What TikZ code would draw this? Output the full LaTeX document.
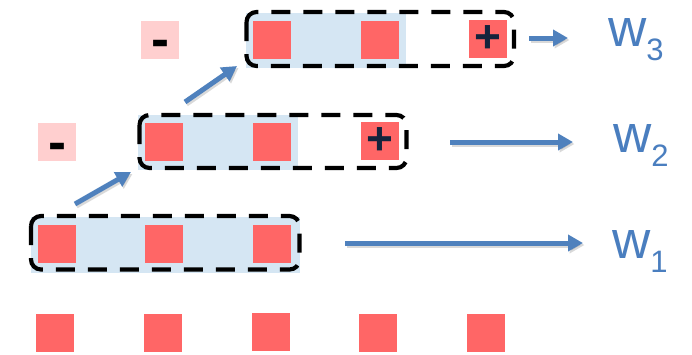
\documentclass[tikz,border=0pt]{standalone}
\usepackage{fontspec}
\setmainfont{Liberation Sans}
\usetikzlibrary{arrows.meta}
\definecolor{sqred}{HTML}{FF6666}
\definecolor{sqpink}{HTML}{FFCFCF}
\definecolor{winfill}{HTML}{D5E6F3}
\definecolor{arrblue}{HTML}{4F81BD}
\definecolor{lblblue}{HTML}{4A7EBF}
\definecolor{plusnavy}{HTML}{14233C}
\tikzset{
  sq/.style={minimum size=38pt, inner sep=0pt, fill=sqred},
  negsq/.style={minimum size=38pt, inner sep=0pt, fill=sqpink},
  winbg/.style={fill=winfill},
  winbox/.style={draw=black, line width=4.2pt, rounded corners=10pt,
    dash pattern=on 19pt off 13pt},
  flow/.style={draw=arrblue, line width=5pt,
    -{Triangle[length=15pt,width=16pt]}},
  flowshadow/.style={draw=black, opacity=0.15, line width=5pt,
    -{Triangle[length=15pt,width=16pt]}},
  signtxt/.style={font=\fontsize{46}{46}\selectfont\bfseries, inner sep=0pt},
  minustxt/.style={font=\fontsize{54}{54}\selectfont\bfseries, inner sep=0pt},
  wlabel/.style={anchor=base west, inner sep=0pt, text=lblblue},
}
\newcommand{\wsub}[1]{{\fontsize{53}{53}\selectfont w}\raisebox{-14pt}{\fontsize{31}{31}\selectfont #1}}
\begin{document}
\begin{tikzpicture}[x=1pt, y=-1pt]
\useasboundingbox (0,0) rectangle (692,354);

% window backgrounds
\fill[winbg] (31,217) rectangle (300,273);
\fill[winbg] (138,115) rectangle (298,170);
\fill[winbg] (246,13) rectangle (406,68);

% bottom row of samples
\node[sq] (b1) at (55,333) {};
\node[sq] (b2) at (163,333) {};
\node[sq] (b3) at (271,332) {};
\node[sq] (b4) at (378,333) {};
\node[sq] (b5) at (486,333) {};

% first window
\node[sq] (r11) at (57,244) {};
\node[sq] (r12) at (164,244) {};
\node[sq] (r13) at (272,244) {};

% second window
\node[negsq] (n2) at (57,142) {};
\node[minustxt] (n2s) at (57,152) {-};
\node[sq] (r21) at (164,142) {};
\node[sq] (r22) at (272,142) {};
\node[sq] (p2) at (380,141) {};
\node[signtxt, text=plusnavy] (p2s) at (380,141) {+};

% third window
\node[negsq] (n3) at (160,40) {};
\node[minustxt] (n3s) at (160,49) {-};
\node[sq] (r31) at (272,40) {};
\node[sq] (r32) at (380,40) {};
\node[sq] (p3) at (488,39) {};
\node[signtxt, text=plusnavy] (p3s) at (488,39) {+};

% dashed window outlines
\draw[winbox] (31,216) rectangle (299.5,269.5);
\draw[winbox] (139.5,115) rectangle (406.5,168);
\draw[winbox] (246.5,12) rectangle (514,66);

% labels
\node[wlabel] (w1) at (612,258) {\wsub{1}};
\node[wlabel] (w2) at (613,152) {\wsub{2}};
\node[wlabel] (w3) at (608,46) {\wsub{3}};

% arrow end points
\coordinate (a1s) at (345,243);
\coordinate (a1e) at (583,243);
\coordinate (a2s) at (450,142);
\coordinate (a2e) at (573,142);
\coordinate (a3s) at (529,38);
\coordinate (a3e) at (568,38);
\coordinate (d1s) at (75,204);
\coordinate (d1e) at (131,172);
\coordinate (d2s) at (185,102);
\coordinate (d2e) at (237,66);

% soft shadows
\foreach \s/\e in {a1s/a1e, a2s/a2e, a3s/a3e, d1s/d1e, d2s/d2e}
  \draw[flowshadow, transform canvas={shift={(1.5pt,-2pt)}}] (\s) -- (\e);

% arrows
\draw[flow] (a1s) -- (a1e);
\draw[flow] (a2s) -- (a2e);
\draw[flow] (a3s) -- (a3e);
\draw[flow] (d1s) -- (d1e);
\draw[flow] (d2s) -- (d2e);
\end{tikzpicture}
\end{document}
